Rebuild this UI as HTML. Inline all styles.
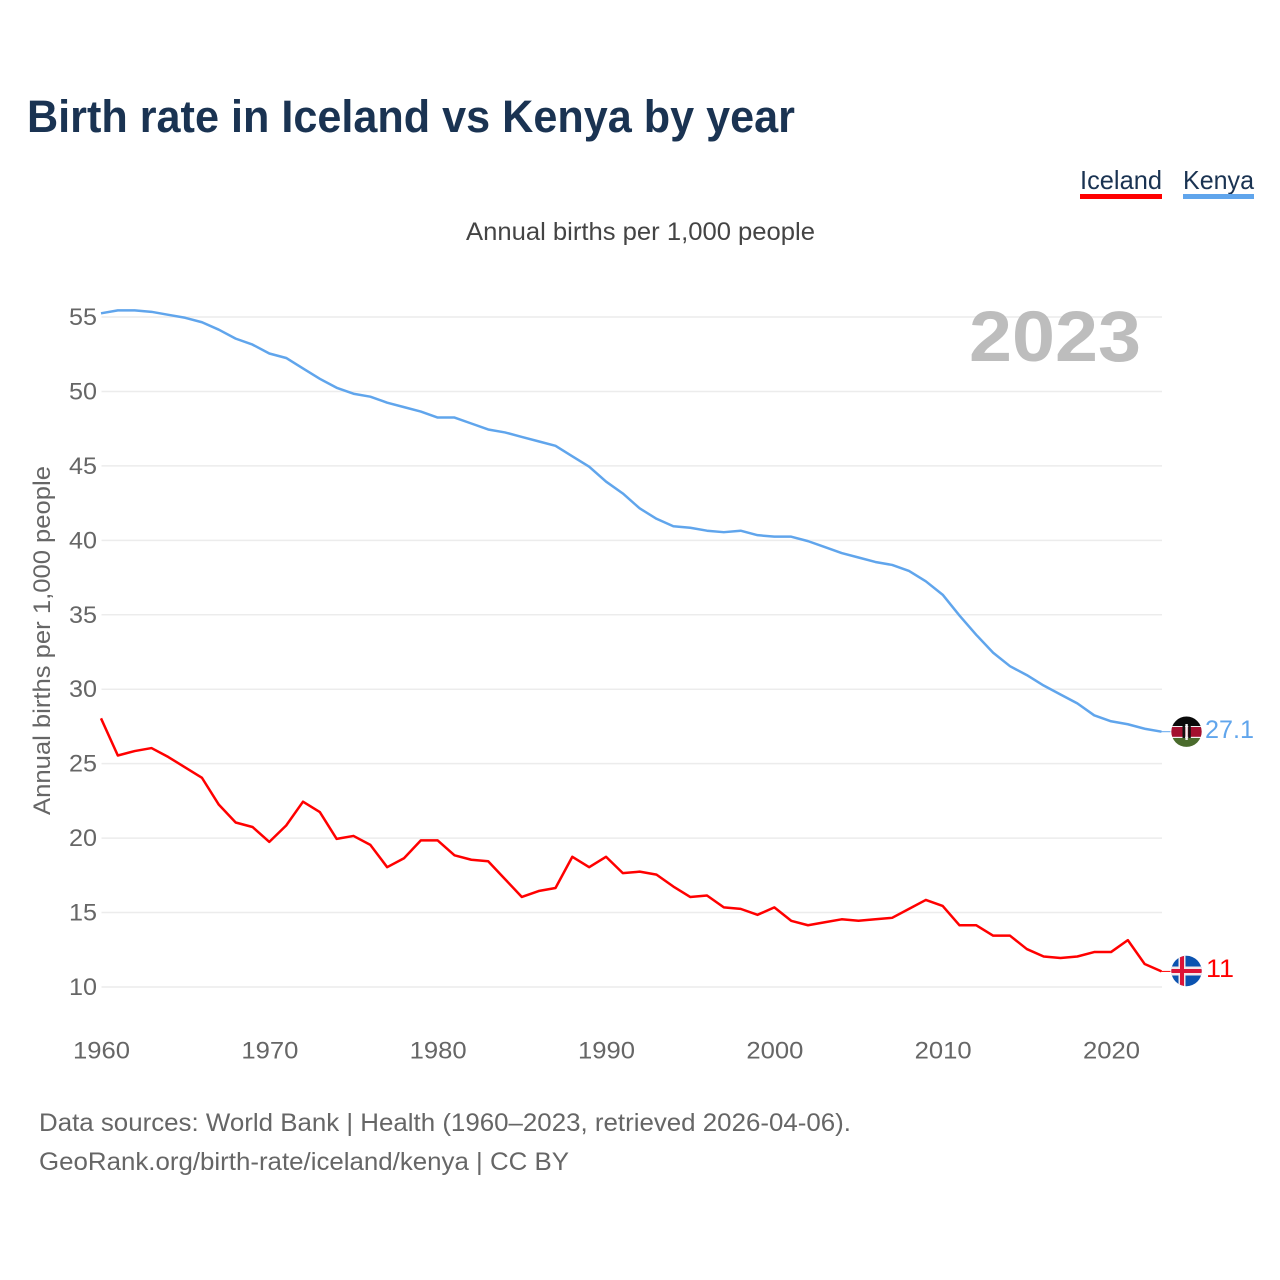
<!DOCTYPE html>
<html lang="en">
<head>
<meta charset="utf-8">
<title>Birth rate in Iceland vs Kenya by year</title>
<style>
html,body{margin:0;padding:0;background:#fff;}
body{width:1280px;height:1280px;overflow:hidden;}
svg{display:block;font-family:"Liberation Sans",sans-serif;}
</style>
</head>
<body>
<svg id="chart" xmlns="http://www.w3.org/2000/svg" width="1280" height="1280" viewBox="0 0 1280 1280">
  <defs>
    <clipPath id="kenya-clip"><circle cx="1186.5" cy="731.7" r="15.2"/></clipPath>
    <clipPath id="iceland-clip"><circle cx="1186.5" cy="971" r="15.2"/></clipPath>
  </defs>
  <text x="27" y="132" font-size="45" font-weight="700" fill="#1a3352" textLength="768" lengthAdjust="spacingAndGlyphs">Birth rate in Iceland vs Kenya by year</text>
  <g>
    <text x="1080" y="189" font-size="26" fill="#1a3352" textLength="82" lengthAdjust="spacingAndGlyphs">Iceland</text>
    <rect x="1080" y="194" width="82" height="5" fill="#ff0000"/>
  </g>
  <g>
    <text x="1183" y="189" font-size="26" fill="#1a3352" textLength="71" lengthAdjust="spacingAndGlyphs">Kenya</text>
    <rect x="1183" y="194" width="71" height="5" fill="#60a5ec"/>
  </g>
  <text x="466" y="240" font-size="25" fill="#444" textLength="349" lengthAdjust="spacingAndGlyphs">Annual births per 1,000 people</text>
  <g id="grid"></g>
  <g id="yticks"></g>
  <g id="xticks"></g>
  <text transform="translate(50,815) rotate(-90)" font-size="24" fill="#666" textLength="349" lengthAdjust="spacingAndGlyphs">Annual births per 1,000 people</text>
  <text x="969" y="361" font-size="71" font-weight="700" fill="#bdbdbd" textLength="172" lengthAdjust="spacingAndGlyphs">2023</text>
  <g id="series" transform="translate(-0.5,-0.7)"></g>
  <g clip-path="url(#kenya-clip)">
    <rect x="1171" y="716" width="31" height="10.5" fill="#0a0a0a"/>
    <rect x="1171" y="726" width="31" height="1.5" fill="#f2f2f2"/>
    <rect x="1171" y="727" width="31" height="10" fill="#a3102f"/>
    <rect x="1171" y="736.8" width="31" height="1.5" fill="#f2f2f2"/>
    <rect x="1171" y="738" width="31" height="10" fill="#4a6b2c"/>
    <rect x="1182.5" y="726" width="2.6" height="12" fill="#111"/>
    <rect x="1185.4" y="724" width="2.4" height="16" fill="#f2f2f2"/>
    <rect x="1188.2" y="726" width="2.6" height="12" fill="#111"/>
  </g>
  <g clip-path="url(#iceland-clip)">
    <rect x="1171" y="955" width="31" height="32" fill="#0b53b0"/>
    <rect x="1178.5" y="955" width="7" height="32" fill="#f4e8ea"/>
    <rect x="1171" y="966.5" width="31" height="9" fill="#f4e8ea"/>
    <rect x="1180" y="955" width="4" height="32" fill="#dc1437"/>
    <rect x="1171" y="969" width="31" height="4" fill="#dc1437"/>
  </g>
  <text id="kenya-value" x="1205" y="738" font-size="25" fill="#60a5ec" textLength="49" lengthAdjust="spacingAndGlyphs">27.1</text>
  <text id="iceland-value" x="1206" y="977" font-size="25" fill="#ff0000" textLength="28" lengthAdjust="spacingAndGlyphs">11</text>
  <text x="39" y="1131" font-size="25" fill="#666" textLength="812" lengthAdjust="spacingAndGlyphs">Data sources: World Bank | Health (1960–2023, retrieved 2026-04-06).</text>
  <text x="39" y="1170" font-size="25" fill="#666" textLength="530" lengthAdjust="spacingAndGlyphs">GeoRank.org/birth-rate/iceland/kenya | CC BY</text>
</svg>
<script>
const years = [1960,1961,1962,1963,1964,1965,1966,1967,1968,1969,1970,1971,1972,1973,1974,1975,1976,1977,1978,1979,1980,1981,1982,1983,1984,1985,1986,1987,1988,1989,1990,1991,1992,1993,1994,1995,1996,1997,1998,1999,2000,2001,2002,2003,2004,2005,2006,2007,2008,2009,2010,2011,2012,2013,2014,2015,2016,2017,2018,2019,2020,2021,2022,2023];
const kenyaValues = [55.2,55.4,55.4,55.3,55.1,54.9,54.6,54.1,53.5,53.1,52.5,52.2,51.5,50.8,50.2,49.8,49.6,49.2,48.9,48.6,48.2,48.2,47.8,47.4,47.2,46.9,46.6,46.3,45.6,44.9,43.9,43.1,42.1,41.4,40.9,40.8,40.6,40.5,40.6,40.3,40.2,40.2,39.9,39.5,39.1,38.8,38.5,38.3,37.9,37.2,36.3,34.9,33.6,32.4,31.5,30.9,30.2,29.6,29.0,28.2,27.8,27.6,27.3,27.1];
const icelandValues = [28,25.5,25.8,26,25.4,24.7,24,22.2,21,20.7,19.7,20.8,22.4,21.7,19.9,20.1,19.5,18,18.6,19.8,19.8,18.8,18.5,18.4,17.2,16,16.4,16.6,18.7,18,18.7,17.6,17.7,17.5,16.7,16,16.1,15.3,15.2,14.8,15.3,14.4,14.1,14.3,14.5,14.4,14.5,14.6,15.2,15.8,15.4,14.1,14.1,13.4,13.4,12.5,12,11.9,12,12.3,12.3,13.1,11.5,11];
const yTickValues = [10,15,20,25,30,35,40,45,50,55];
const xTickValues = [1960,1970,1980,1990,2000,2010,2020];

const NS = 'http://www.w3.org/2000/svg';
function xScale(year){ return 101.5 + (year - 1960) * (1162 - 101.5) / 63; }
function yScale(value){ return 987 - (value - 10) * (987 - 317) / 45; }
function make(tag, attrs, parent){
  const el = document.createElementNS(NS, tag);
  for (const k in attrs) el.setAttribute(k, attrs[k]);
  parent.appendChild(el);
  return el;
}
const grid = document.getElementById('grid');
const yticks = document.getElementById('yticks');
const xticks = document.getElementById('xticks');
const seriesGroup = document.getElementById('series');

yTickValues.forEach(function(v){
  const line = make('line', {x1:101.5, x2:1162, y1:yScale(v), y2:yScale(v), stroke:'#ececec', 'stroke-width':1.5}, grid);
  
  
  const t = make('text', {x:97, y:yScale(v)+8, 'text-anchor':'end', 'font-size':24, fill:'#666', textLength:28, lengthAdjust:'spacingAndGlyphs'}, yticks);
  t.textContent = String(v);
  
  
});
xTickValues.forEach(function(v){
  const t = make('text', {x:xScale(v)-28.5, y:1058.5, 'font-size':24, fill:'#666', textLength:57, lengthAdjust:'spacingAndGlyphs'}, xticks);
  t.textContent = String(v);
  
  
});
function pathFor(values){
  return values.map(function(v, i){
    return (i ? 'L' : 'M') + xScale(years[i]).toFixed(2) + ' ' + yScale(v).toFixed(2);
  }).join(' ');
}
function lastPoint(values){
  return {x:xScale(years[years.length-1]), y:yScale(values[values.length-1])};
}
const kenyaEnd = lastPoint(kenyaValues);
const kenyaLeader = make('line', {x1:kenyaEnd.x, y1:kenyaEnd.y, x2:kenyaEnd.x+9, y2:kenyaEnd.y, stroke:'#60a5ec', 'stroke-width':1}, seriesGroup);


const icelandEnd = lastPoint(icelandValues);
const icelandLeader = make('line', {x1:icelandEnd.x, y1:icelandEnd.y, x2:icelandEnd.x+9, y2:icelandEnd.y, stroke:'#ff0000', 'stroke-width':1}, seriesGroup);


const kenyaLine = make('path', {d:pathFor(kenyaValues), fill:'none', stroke:'#60a5ec', 'stroke-width':2.5, 'stroke-linejoin':'round'}, seriesGroup);


const icelandLine = make('path', {d:pathFor(icelandValues), fill:'none', stroke:'#ff0000', 'stroke-width':2.5, 'stroke-linejoin':'round'}, seriesGroup);


document.getElementById('kenya-value').textContent = String(kenyaValues[kenyaValues.length-1]);
document.getElementById('iceland-value').textContent = String(icelandValues[icelandValues.length-1]);
</script>
</body>
</html>
